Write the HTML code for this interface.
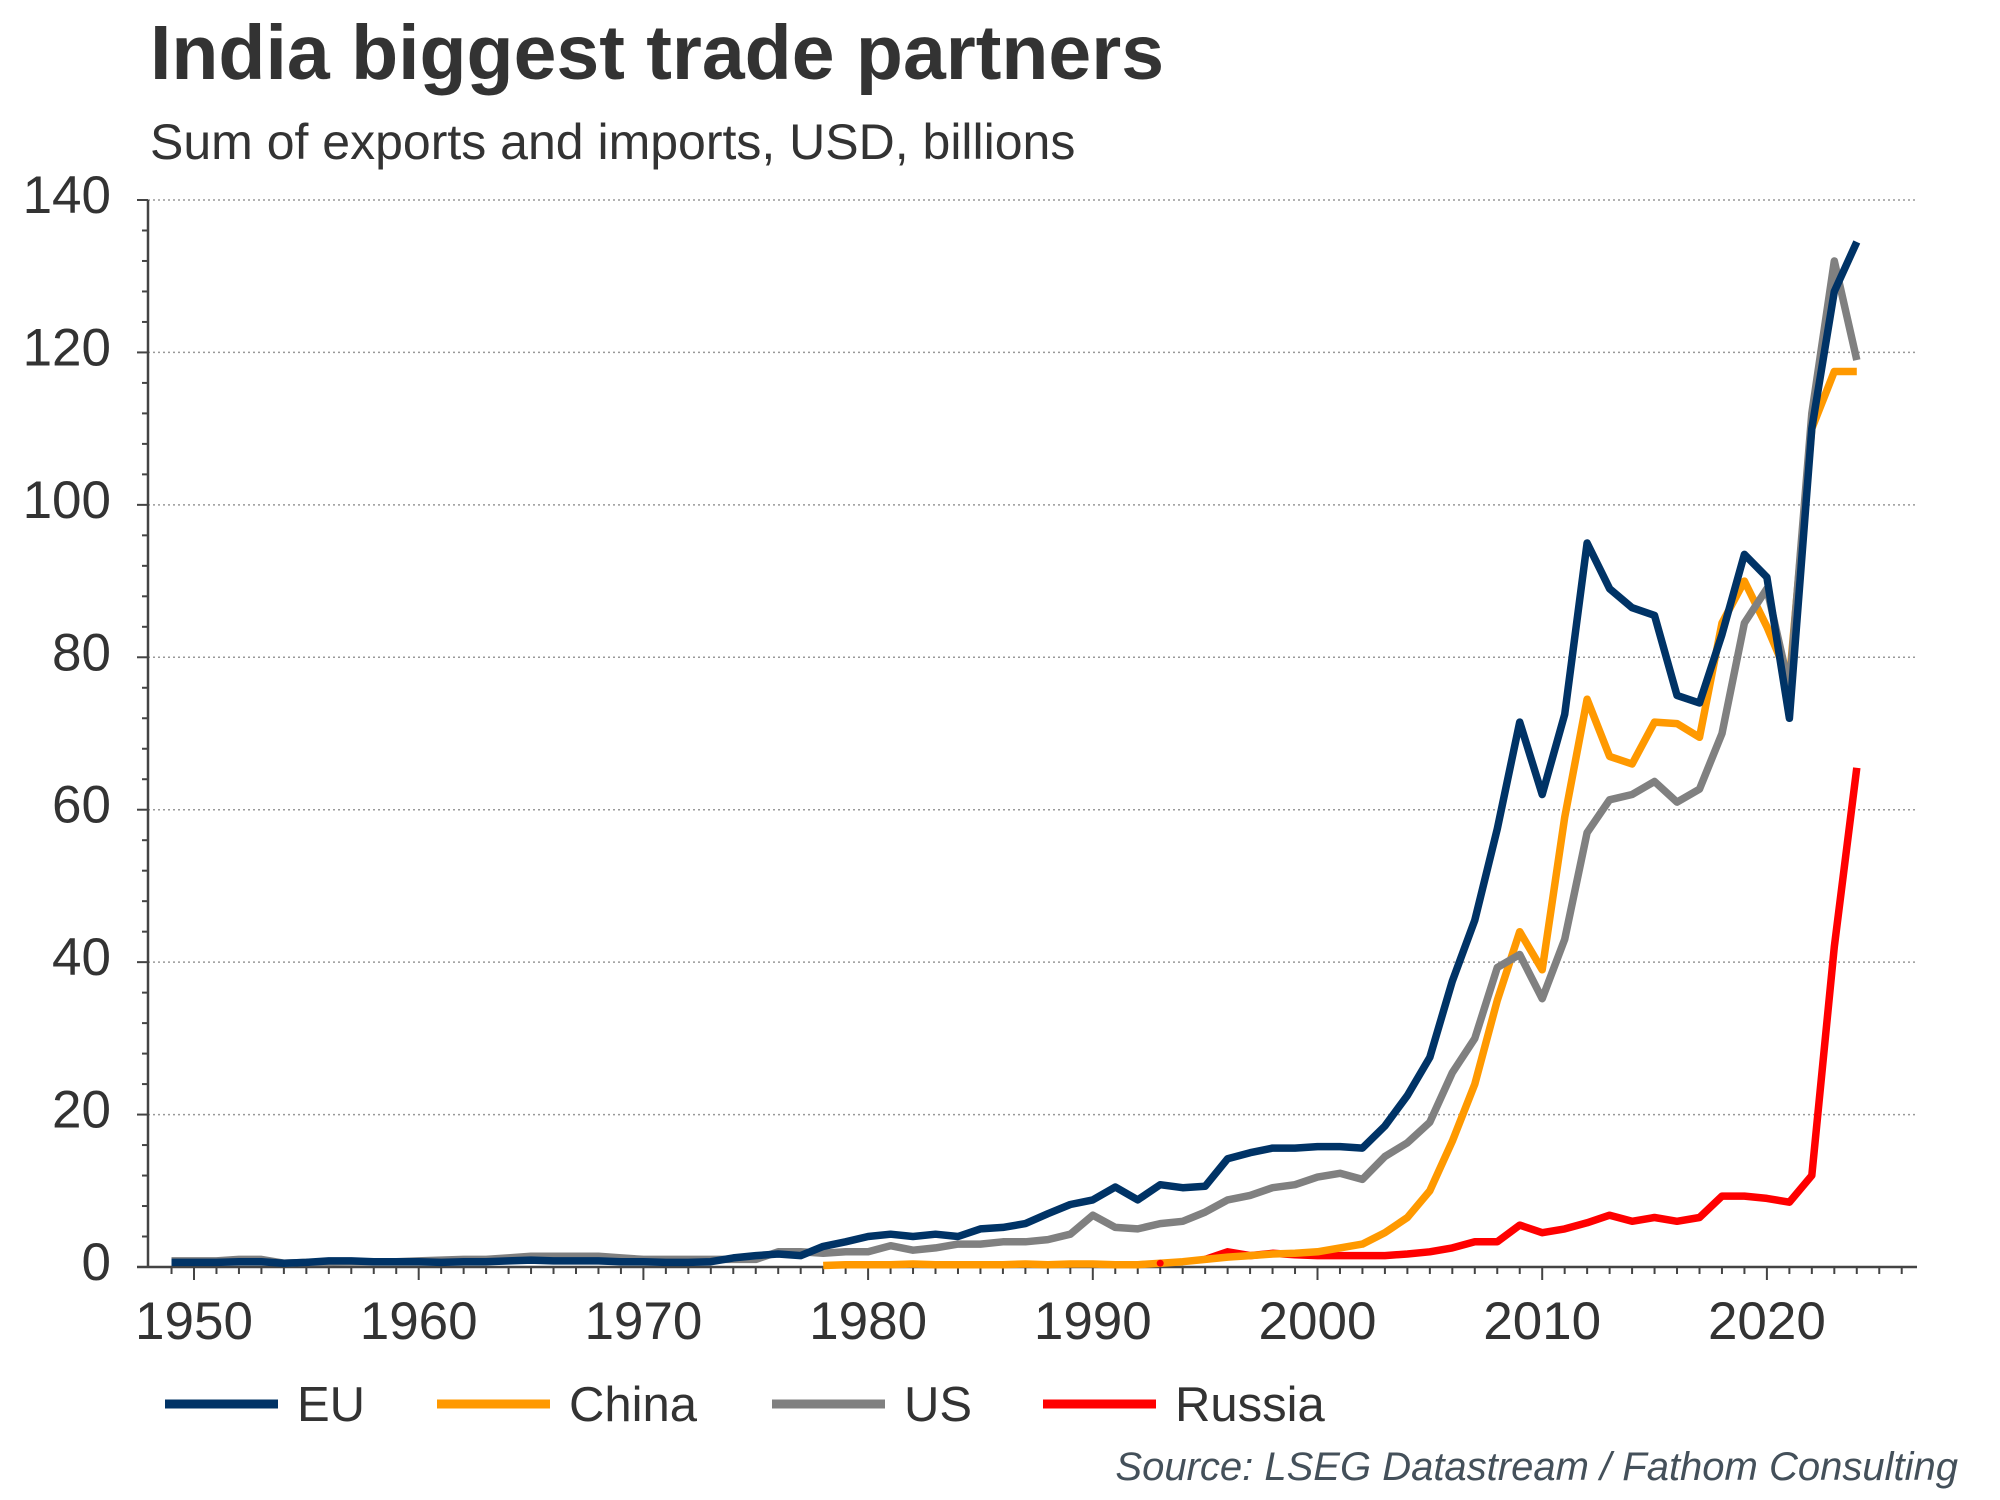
<!DOCTYPE html>
<html><head><meta charset="utf-8">
<style>
html,body{margin:0;padding:0;background:#fff;}
svg{display:block;font-family:"Liberation Sans",Arial,sans-serif;}
</style></head>
<body>
<svg id="chart" width="2000" height="1500" viewBox="0 0 2000 1500" xmlns="http://www.w3.org/2000/svg">
<text x="150" y="79" font-size="77" font-weight="bold" fill="#333">India biggest trade partners</text>
<text x="150" y="159" font-size="50" fill="#333">Sum of exports and imports, USD, billions</text>
<g id="grid"></g>
<g id="axes"></g>
<g id="series"></g>
<g id="legend"></g>
<text x="1958" y="1480" font-size="40" font-style="italic" fill="#44505a" text-anchor="end">Source: LSEG Datastream / Fathom Consulting</text>
</svg>
<script>
const years = [];
for (let y = 1949; y <= 2024; y++) years.push(y);
const euValues = [0.6,0.6,0.6,0.7,0.7,0.5,0.6,0.8,0.8,0.7,0.7,0.7,0.6,0.7,0.7,0.8,0.9,0.8,0.8,0.8,0.7,0.7,0.6,0.6,0.7,1.2,1.5,1.7,1.5,2.7,3.3,4.0,4.3,4.0,4.3,4.0,5.0,5.2,5.7,7.0,8.2,8.8,10.5,8.8,10.8,10.4,10.6,14.2,15.0,15.6,15.6,15.8,15.8,15.6,18.5,22.5,27.5,37.5,45.5,57.5,71.5,62.0,72.5,95.0,89.0,86.5,85.5,75.0,74.0,83.0,93.5,90.5,72.0,110.0,128.0,134.5];
const chinaValues = [null,null,null,null,null,null,null,null,null,null,null,null,null,null,null,null,null,null,null,null,null,null,null,null,null,null,null,null,null,0.2,0.3,0.3,0.3,0.4,0.3,0.3,0.3,0.3,0.4,0.3,0.4,0.4,0.3,0.3,0.5,0.7,1.0,1.3,1.5,1.7,1.8,2.0,2.5,3.0,4.5,6.5,10.0,16.5,24.0,35.0,44.0,39.0,59.0,74.5,67.0,66.0,71.5,71.3,69.5,84.5,90.0,84.0,77.0,110.0,117.5,117.5];
const usValues = [0.8,0.8,0.8,1.0,1.0,0.5,0.6,0.6,0.7,0.7,0.7,0.8,0.9,1.0,1.0,1.2,1.4,1.4,1.4,1.4,1.2,1.0,1.0,1.0,1.0,1.0,1.0,2.0,2.0,1.8,2.0,2.0,2.8,2.2,2.5,3.0,3.0,3.3,3.3,3.6,4.3,6.8,5.2,5.0,5.7,6.0,7.2,8.8,9.4,10.4,10.8,11.8,12.3,11.5,14.5,16.3,19.0,25.5,30.0,39.3,41.0,35.2,43.0,57.0,61.3,62.0,63.7,61.0,62.7,70.0,84.5,89.0,76.0,112.0,132.0,119.0];
const russiaValues = [null,null,null,null,null,null,null,null,null,null,null,null,null,null,null,null,null,null,null,null,null,null,null,null,null,null,null,null,null,null,null,null,null,null,null,null,null,null,null,null,null,null,null,null,null,null,1.0,2.0,1.5,1.8,1.6,1.5,1.5,1.5,1.5,1.7,2.0,2.5,3.3,3.3,5.5,4.5,5.0,5.8,6.8,6.0,6.5,6.0,6.5,9.3,9.3,9.0,8.5,12.0,42.0,65.5];
const russiaDotYear = 1993, russiaDotValue = 0.5;
const yTicks = [0,20,40,60,80,100,120,140];
const xTickLabels = [1950,1960,1970,1980,1990,2000,2010,2020];
const seriesNames = ["EU","China","US","Russia"];

const NS = "http://www.w3.org/2000/svg";
const X0 = 148, X1 = 1917, Y0 = 1267, Y1 = 200;
const PER_YEAR = 22.47;
const xs = yr => 194 + (yr - 1950) * PER_YEAR;
const xt = yr => 194 + (yr - 1950) * PER_YEAR;
const ys = v => Y0 - (v / 140) * (Y0 - Y1);
function mk(tag, attrs, parent){ const e=document.createElementNS(NS,tag); for(const k in attrs) e.setAttribute(k,attrs[k]); parent.appendChild(e); return e; }
const grid=document.getElementById('grid'), axes=document.getElementById('axes'), ser=document.getElementById('series'), leg=document.getElementById('legend');

yTicks.forEach(t=>{
  if(t>0){ const l=mk('line',{x1:X0,x2:X1,y1:ys(t),y2:ys(t),stroke:'#999','stroke-width':1.5,'stroke-dasharray':'2,3'},grid);
    
     }
  const tx=mk('text',{x:111,y:ys(t)+13,'font-size':53,fill:'#333','text-anchor':'end'},axes);
  tx.textContent=t;
  
  
});
for(let v=0; v<=140; v+=4){ const major = v%20===0;
  mk('line',{x1:major?137:142,x2:X0,y1:ys(v),y2:ys(v),stroke:'#444','stroke-width':2},axes); }
for(let yr=1949; yr<=2026; yr++){ const major = yr%10===0;
  mk('line',{x1:xt(yr),x2:xt(yr),y1:Y0,y2:Y0+(major?13:7),stroke:'#444','stroke-width':2},axes); }
xTickLabels.forEach(yr=>{ const tx=mk('text',{x:xt(yr),y:1339,'font-size':53,fill:'#333','text-anchor':'middle'},axes);
  tx.textContent=yr;
  
   });
const ya=mk('line',{x1:X0,x2:X0,y1:Y1,y2:Y0,stroke:'#444','stroke-width':2.5},axes);


const xa=mk('line',{x1:X0-11,x2:X1,y1:Y0,y2:Y0,stroke:'#444','stroke-width':2.5},axes);



function pathOf(vals){ let d='', pen=false; vals.forEach((v,i)=>{ if(v===null){pen=false;return;} d+=(pen?'L':'M')+xs(years[i]).toFixed(1)+','+ys(v).toFixed(1)+' '; pen=true; }); return d; }
const colors={EU:'#003366',China:'#ff9900',US:'#808080',Russia:'#ff0000'};
const dataBy={EU:euValues,China:chinaValues,US:usValues,Russia:russiaValues};
["Russia","China","US","EU"].forEach(n=>{
  const p=mk('path',{d:pathOf(dataBy[n]),fill:'none',stroke:colors[n],'stroke-width':7.5,'stroke-linejoin':'round'},ser);
  
  
});
const dot=mk('circle',{cx:xs(russiaDotYear),cy:ys(russiaDotValue),r:3.5,fill:colors.Russia},ser);



const legX=[165,437,772,1043];
seriesNames.forEach((n,i)=>{
  const g=mk('g',{},leg);
  
  
  mk('line',{x1:legX[i],x2:legX[i]+113,y1:1404,y2:1404,stroke:colors[n],'stroke-width':9},g);
  const t=mk('text',{x:legX[i]+132,y:1421,'font-size':49,fill:'#333'},g);
  t.textContent=n;
});
</script>
</body></html>
